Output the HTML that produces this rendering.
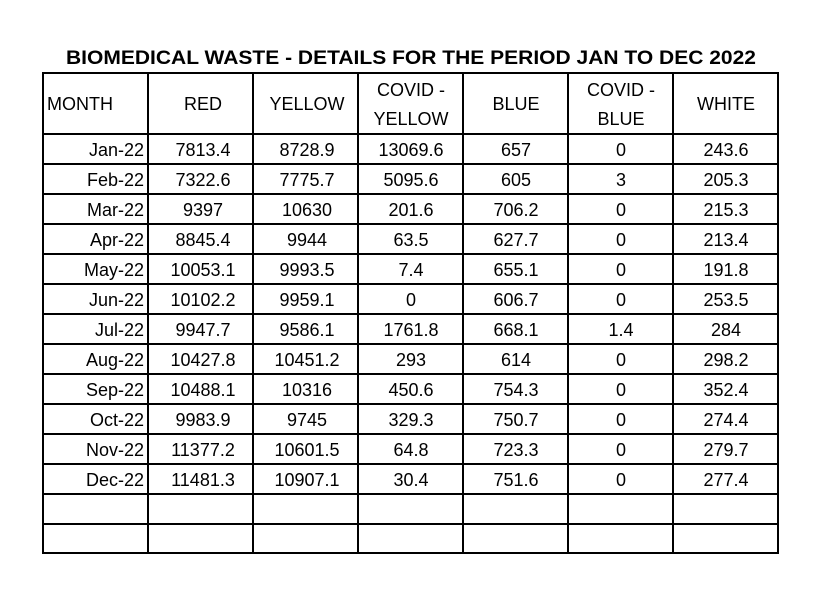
<!DOCTYPE html>
<html><head><meta charset="utf-8"><style>
body{margin:0;background:#fff;width:827px;height:587px;overflow:hidden}
svg text{font-family:"Liberation Sans",Arial,sans-serif;font-size:18px;fill:#000}
</style></head><body>
<svg width="827" height="587" xmlns="http://www.w3.org/2000/svg">
<text x="411" y="64" text-anchor="middle" style="font-weight:bold;font-size:19px" textLength="690" lengthAdjust="spacingAndGlyphs">BIOMEDICAL WASTE - DETAILS FOR THE PERIOD JAN TO DEC 2022</text>
<g stroke="#000" stroke-width="2" fill="none">
<rect x="43" y="73" width="735" height="480"/>
<line x1="148" y1="73" x2="148" y2="553"/>
<line x1="253" y1="73" x2="253" y2="553"/>
<line x1="358" y1="73" x2="358" y2="553"/>
<line x1="463" y1="73" x2="463" y2="553"/>
<line x1="568" y1="73" x2="568" y2="553"/>
<line x1="673" y1="73" x2="673" y2="553"/>
<line x1="43" y1="134" x2="778" y2="134"/>
<line x1="43" y1="164" x2="778" y2="164"/>
<line x1="43" y1="194" x2="778" y2="194"/>
<line x1="43" y1="224" x2="778" y2="224"/>
<line x1="43" y1="254" x2="778" y2="254"/>
<line x1="43" y1="284" x2="778" y2="284"/>
<line x1="43" y1="314" x2="778" y2="314"/>
<line x1="43" y1="344" x2="778" y2="344"/>
<line x1="43" y1="374" x2="778" y2="374"/>
<line x1="43" y1="404" x2="778" y2="404"/>
<line x1="43" y1="434" x2="778" y2="434"/>
<line x1="43" y1="464" x2="778" y2="464"/>
<line x1="43" y1="494" x2="778" y2="494"/>
<line x1="43" y1="524" x2="778" y2="524"/>
</g>
<g>
<text x="47" y="110">MONTH</text>
<text x="203" y="110" text-anchor="middle">RED</text>
<text x="307" y="110" text-anchor="middle">YELLOW</text>
<text x="411" y="96" text-anchor="middle">COVID -</text>
<text x="411" y="125" text-anchor="middle">YELLOW</text>
<text x="516" y="110" text-anchor="middle">BLUE</text>
<text x="621" y="96" text-anchor="middle">COVID -</text>
<text x="621" y="125" text-anchor="middle">BLUE</text>
<text x="726" y="110" text-anchor="middle">WHITE</text>
</g>
<g text-anchor="middle">
<text x="144" y="156" text-anchor="end">Jan-22</text><text x="203" y="156">7813.4</text><text x="307" y="156">8728.9</text><text x="411" y="156">13069.6</text><text x="516" y="156">657</text><text x="621" y="156">0</text><text x="726" y="156">243.6</text>
<text x="144" y="186" text-anchor="end">Feb-22</text><text x="203" y="186">7322.6</text><text x="307" y="186">7775.7</text><text x="411" y="186">5095.6</text><text x="516" y="186">605</text><text x="621" y="186">3</text><text x="726" y="186">205.3</text>
<text x="144" y="216" text-anchor="end">Mar-22</text><text x="203" y="216">9397</text><text x="307" y="216">10630</text><text x="411" y="216">201.6</text><text x="516" y="216">706.2</text><text x="621" y="216">0</text><text x="726" y="216">215.3</text>
<text x="144" y="246" text-anchor="end">Apr-22</text><text x="203" y="246">8845.4</text><text x="307" y="246">9944</text><text x="411" y="246">63.5</text><text x="516" y="246">627.7</text><text x="621" y="246">0</text><text x="726" y="246">213.4</text>
<text x="144" y="276" text-anchor="end">May-22</text><text x="203" y="276">10053.1</text><text x="307" y="276">9993.5</text><text x="411" y="276">7.4</text><text x="516" y="276">655.1</text><text x="621" y="276">0</text><text x="726" y="276">191.8</text>
<text x="144" y="306" text-anchor="end">Jun-22</text><text x="203" y="306">10102.2</text><text x="307" y="306">9959.1</text><text x="411" y="306">0</text><text x="516" y="306">606.7</text><text x="621" y="306">0</text><text x="726" y="306">253.5</text>
<text x="144" y="336" text-anchor="end">Jul-22</text><text x="203" y="336">9947.7</text><text x="307" y="336">9586.1</text><text x="411" y="336">1761.8</text><text x="516" y="336">668.1</text><text x="621" y="336">1.4</text><text x="726" y="336">284</text>
<text x="144" y="366" text-anchor="end">Aug-22</text><text x="203" y="366">10427.8</text><text x="307" y="366">10451.2</text><text x="411" y="366">293</text><text x="516" y="366">614</text><text x="621" y="366">0</text><text x="726" y="366">298.2</text>
<text x="144" y="396" text-anchor="end">Sep-22</text><text x="203" y="396">10488.1</text><text x="307" y="396">10316</text><text x="411" y="396">450.6</text><text x="516" y="396">754.3</text><text x="621" y="396">0</text><text x="726" y="396">352.4</text>
<text x="144" y="426" text-anchor="end">Oct-22</text><text x="203" y="426">9983.9</text><text x="307" y="426">9745</text><text x="411" y="426">329.3</text><text x="516" y="426">750.7</text><text x="621" y="426">0</text><text x="726" y="426">274.4</text>
<text x="144" y="456" text-anchor="end">Nov-22</text><text x="203" y="456">11377.2</text><text x="307" y="456">10601.5</text><text x="411" y="456">64.8</text><text x="516" y="456">723.3</text><text x="621" y="456">0</text><text x="726" y="456">279.7</text>
<text x="144" y="486" text-anchor="end">Dec-22</text><text x="203" y="486">11481.3</text><text x="307" y="486">10907.1</text><text x="411" y="486">30.4</text><text x="516" y="486">751.6</text><text x="621" y="486">0</text><text x="726" y="486">277.4</text>
</g>
</svg>
</body></html>
